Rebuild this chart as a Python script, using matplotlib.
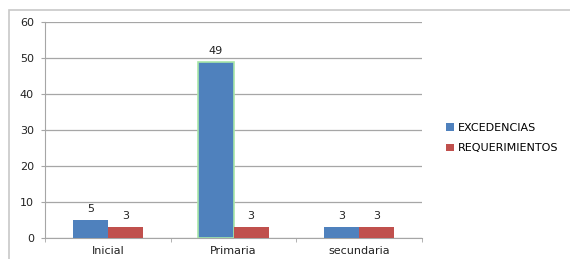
import matplotlib.pyplot as plt
import numpy as np
from matplotlib.patches import Rectangle

categories = ['Inicial', 'Primaria', 'secundaria']
excedencias = [5, 49, 3]
requerimientos = [3, 3, 3]

blue = '#4F81BD'
red = '#C0504D'
grid_col = '#A6A6A6'

fig = plt.figure(figsize=(5.7, 2.59), dpi=100)

# outer chart border (only top/left visible in the original crop)
fig.patches.append(Rectangle((9/570, -0.1), 1.2, 1 - 10/259 + 0.1, transform=fig.transFigure,
                             fill=False, edgecolor='#C8C8C8', linewidth=1.2))

ax = fig.add_axes([45/570, 1 - 238/259, (422 - 45)/570, (238 - 22)/259])

x = np.arange(len(categories))
w = 0.28
b1 = ax.bar(x - w/2, excedencias, w, color=blue, label='EXCEDENCIAS', zorder=3)
b2 = ax.bar(x + w/2, requerimientos, w, color=red, label='REQUERIMIENTOS', zorder=3)
# greenish glow around the tall bar
b1[1].set_edgecolor('#A8E6A8')
b1[1].set_linewidth(1.2)

for bars in (b1, b2):
    for r in bars:
        ax.text(r.get_x() + r.get_width()/2, r.get_height() + 1.6, str(int(r.get_height())),
                ha='center', va='bottom', fontsize=8, color='#222222')

ax.set_xlim(-0.5, 2.5)
ax.set_ylim(0, 60)
ax.set_yticks(range(0, 61, 10))
ax.set_xticks(x)
ax.set_xticklabels(categories)
ax.set_xticks([-0.5, 0.5, 1.5, 2.5], minor=True)
ax.tick_params(axis='x', which='major', length=0, pad=6, labelsize=8, colors='#222222')
ax.tick_params(axis='x', which='minor', length=3, direction='out', color=grid_col)
ax.tick_params(axis='y', length=3, direction='out', color=grid_col, labelsize=8,
               labelcolor='#222222', pad=5)

ax.grid(axis='y', color=grid_col, linewidth=0.9, zorder=0)
for s in ['top', 'right']:
    ax.spines[s].set_visible(False)
ax.spines['left'].set_color(grid_col)
ax.spines['bottom'].set_color(grid_col)

fig.legend(handles=[b1, b2], loc='center left', bbox_to_anchor=(436/570, 1 - 138/259),
           frameon=False, fontsize=8, handlelength=0.7, handleheight=0.7,
           handletextpad=0.4, labelspacing=0.95)

fig.savefig('out.png', dpi=100)
